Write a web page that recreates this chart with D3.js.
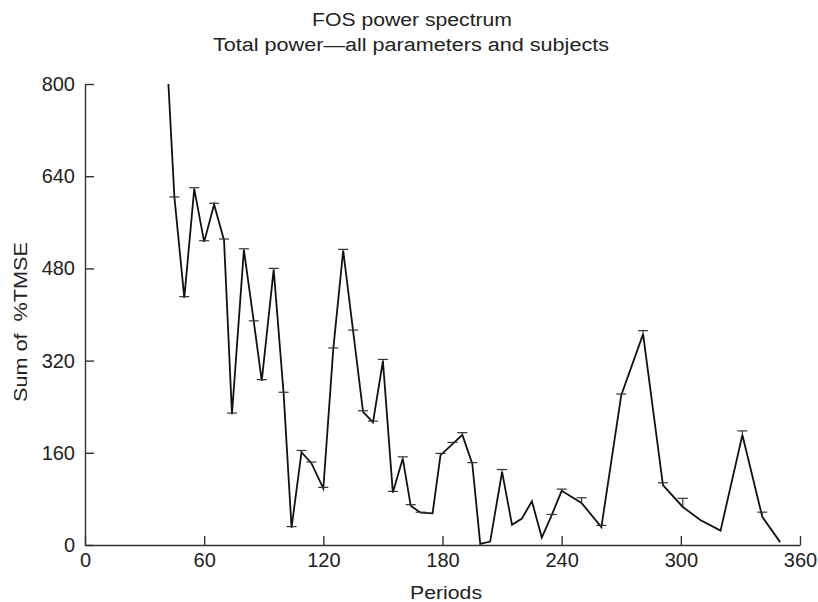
<!DOCTYPE html>
<html>
<head>
  <meta charset="utf-8">
  <title>FOS power spectrum</title>
  <script src="https://d3js.org/d3.v7.min.js"></script>
<style>
    body { margin: 0; background: #fff; }
    text { font-family: "Liberation Sans", Arial, sans-serif; fill: #222; }
    .axis path, .axis line { stroke: #333; stroke-width: 1.4; }
    .axis text { font-size: 20px; fill: #222; }
  </style>
</head>
<body>
<div id="chart"></div>
<script>
// periods (x) and summed %TMSE (y)
var periods = [42, 45, 50, 55, 60, 65, 70, 74, 80, 85, 89, 95, 100, 104, 109, 114, 120, 125, 130, 135,
  140, 145, 150, 155, 160, 164, 169, 175, 179, 185, 190, 195, 199, 204, 210, 215, 220, 225, 230, 235,
  240, 250, 260, 270, 281, 291, 301, 310, 320, 331, 341, 350];
var values = [800, 604, 429, 618, 526, 591, 529, 227, 512, 387, 285, 478, 263, 30, 161, 142, 98, 340, 511, 371,
  231, 213, 319, 91, 150, 68, 56, 55, 156, 175, 191, 141, 2, 6, 127, 35, 46, 76, 13, 52,
  94, 73, 31, 260, 366, 104, 66, 43, 25, 191, 49, 5];
// upper error for each point (null = no bar drawn)
var errors = [null, 0, 2, 2, 2, 2, 2, 2, 2, 2, 2, 2, 2, 2, 3, 2, 2, 2, 2, 2,
  2, 2, 3, 2, 3, 2, 1, null, 3, 3, 4, 2, null, null, 4, null, null, null, null, 1,
  3, 9, 3, 2, 6, 4, 15, null, null, 7, 8, null];

var xTicks = [0, 60, 120, 180, 240, 300, 360];
var yTicks = [0, 160, 320, 480, 640, 800];

var width = 818, height = 602;
var margin = {top: 84, right: 18, bottom: 57, left: 85};

var svg = d3.select("#chart")
  .append("svg")
    .attr("width", width)
    .attr("height", height);

var x = d3.scaleLinear()
  .domain([0, 360])
  .range([margin.left, width - margin.right]);

var y = d3.scaleLinear()
  .domain([0, 800])
  .range([height - margin.bottom, margin.top]);

// titles
svg.append("text")
  .attr("x", 412).attr("y", 26)
  .attr("text-anchor", "middle")
  .style("font-size", "18px")
  .attr("textLength", 200).attr("lengthAdjust", "spacingAndGlyphs")
  .text("FOS power spectrum");
svg.append("text")
  .attr("x", 411).attr("y", 51)
  .attr("text-anchor", "middle")
  .style("font-size", "18px")
  .attr("textLength", 396).attr("lengthAdjust", "spacingAndGlyphs")
  .text("Total power\u2014all parameters and subjects");

// axes
svg.append("g")
  .attr("class", "axis")
  .attr("transform", "translate(0," + y(0) + ")")
  .call(d3.axisBottom(x).tickValues(xTicks).tickSizeInner(-9).tickSizeOuter(0).tickPadding(8));

svg.append("g")
  .attr("class", "axis")
  .attr("transform", "translate(" + x(0) + ",0)")
  .call(d3.axisLeft(y).tickValues(yTicks).tickSizeInner(-9).tickSizeOuter(0).tickPadding(10));

// axis titles
svg.append("text")
  .attr("x", 446).attr("y", 599)
  .attr("text-anchor", "middle")
  .style("font-size", "18px")
  .attr("textLength", 72).attr("lengthAdjust", "spacingAndGlyphs")
  .text("Periods");
svg.append("text")
  .attr("transform", "translate(27,322) rotate(-90)")
  .attr("text-anchor", "middle")
  .style("font-size", "18px")
  .attr("textLength", 160).attr("lengthAdjust", "spacingAndGlyphs")
  .style("white-space", "pre")
  .text("Sum of  %TMSE");

var data = periods.map(function(p, i) {
  return {p: p, v: values[i], e: errors[i]};
});

// line
var line = d3.line()
  .x(function(d) { return x(d.p); })
  .y(function(d) { return y(d.v); });

svg.append("path")
  .datum(data)
  .attr("fill", "none")
  .attr("stroke", "#111")
  .attr("stroke-width", 1.8)
  .attr("d", line);

// error bars
var bars = data.filter(function(d) { return d.e !== null; });
var g = svg.append("g").attr("stroke", "#333").attr("stroke-width", 1.2);
g.selectAll(".eb")
  .data(bars)
  .enter().append("line")
    .attr("x1", function(d) { return x(d.p); })
    .attr("x2", function(d) { return x(d.p); })
    .attr("y1", function(d) { return y(d.v); })
    .attr("y2", function(d) { return y(d.v + d.e); });
g.selectAll(".cap")
  .data(bars)
  .enter().append("line")
    .attr("x1", function(d) { return x(d.p) - 5; })
    .attr("x2", function(d) { return x(d.p) + 5; })
    .attr("y1", function(d) { return y(d.v + d.e); })
    .attr("y2", function(d) { return y(d.v + d.e); });
</script>
</body>
</html>
